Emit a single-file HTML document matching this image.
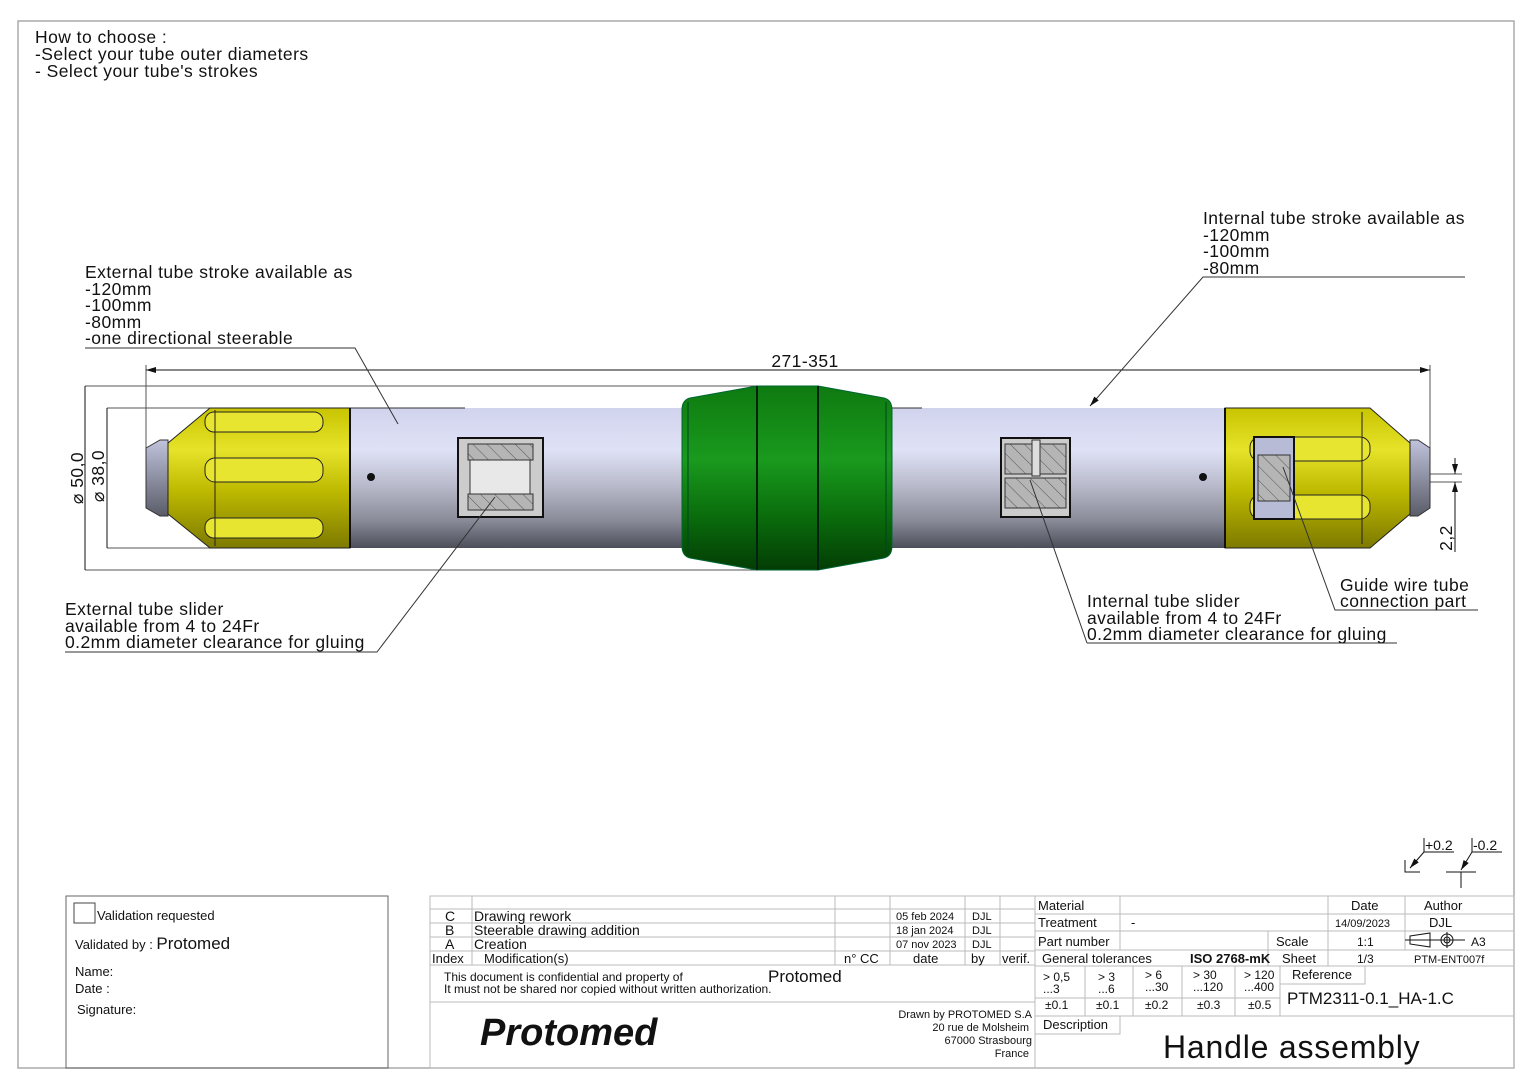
<!DOCTYPE html>
<html><head><meta charset="utf-8"><style>
html,body{margin:0;padding:0;background:#fff}
svg{display:block}
text{font-family:"Liberation Sans",sans-serif;fill:#111}
.lb{font-size:17.5px;letter-spacing:0.45px}
</style></head><body>
<svg width="1536" height="1086" viewBox="0 0 1536 1086" xmlns="http://www.w3.org/2000/svg">
<defs>
<linearGradient id="tube" x1="0" y1="0" x2="0" y2="1">
<stop offset="0" stop-color="#d0d3ec"/><stop offset="0.3" stop-color="#dfe2f6"/><stop offset="0.55" stop-color="#b9bbcc"/><stop offset="0.8" stop-color="#8a8c99"/><stop offset="1" stop-color="#4c4e5a"/></linearGradient>
<linearGradient id="yel" x1="0" y1="0" x2="0" y2="1">
<stop offset="0" stop-color="#c8c400"/><stop offset="0.3" stop-color="#e6e32a"/><stop offset="0.6" stop-color="#bdb800"/><stop offset="1" stop-color="#7d7a00"/></linearGradient>
<linearGradient id="grn" x1="0" y1="0" x2="0" y2="1">
<stop offset="0" stop-color="#0e7a10"/><stop offset="0.4" stop-color="#1a9a1e"/><stop offset="0.7" stop-color="#0a6e0c"/><stop offset="1" stop-color="#033d05"/></linearGradient>
<linearGradient id="tip" x1="0" y1="0" x2="0" y2="1">
<stop offset="0" stop-color="#c0c3dc"/><stop offset="1" stop-color="#5a5c68"/></linearGradient>
<pattern id="hatch" width="10" height="10" patternUnits="userSpaceOnUse" patternTransform="rotate(-45)"><rect width="10" height="10" fill="#b5b5b5"/><line x1="0" y1="0" x2="0" y2="10" stroke="#555" stroke-width="1"/></pattern>
<marker id="ar" markerWidth="10" markerHeight="6" refX="10" refY="3" orient="auto-start-reverse" markerUnits="userSpaceOnUse"><path d="M0,0 L10,3 L0,6z" fill="#111"/></marker>
</defs>
<rect x="18" y="21" width="1496" height="1047" fill="none" stroke="#aaa" stroke-width="1.5"/>

<text x="35" y="43" class="lb">How to choose :</text>
<text x="35" y="60" class="lb">-Select your tube outer diameters</text>
<text x="35" y="77" class="lb">- Select your tube's strokes</text>

<g stroke="#555" stroke-width="1" fill="none">
<line x1="85" y1="386" x2="757" y2="386"/><line x1="85" y1="570" x2="757" y2="570"/>
<line x1="107" y1="408" x2="350" y2="408"/><line x1="107" y1="548" x2="350" y2="548"/>
<line x1="146" y1="365" x2="146" y2="462"/><line x1="1430" y1="365" x2="1430" y2="470"/>
<line x1="146" y1="370" x2="1430" y2="370" marker-start="url(#ar)" marker-end="url(#ar)" stroke="#111"/>
<line x1="85" y1="386" x2="85" y2="570" stroke="#111"/><line x1="107" y1="408" x2="107" y2="548" stroke="#111"/>
<line x1="1290" y1="474" x2="1462" y2="474"/><line x1="1290" y1="482" x2="1462" y2="482"/>
<line x1="1455" y1="458" x2="1455" y2="474" stroke="#111" marker-end="url(#ar)"/>
<line x1="1455" y1="552" x2="1455" y2="482" stroke="#111" marker-end="url(#ar)"/>
</g>
<text x="805" y="367" class="lb" text-anchor="middle">271-351</text>
<text transform="translate(83,478) rotate(-90)" class="lb" text-anchor="middle">⌀ 50,0</text>
<text transform="translate(104,476) rotate(-90)" class="lb" text-anchor="middle">⌀ 38,0</text>
<text transform="translate(1452,538) rotate(-90)" class="lb" text-anchor="middle">2,2</text>

<rect x="350" y="408" width="875" height="140" fill="url(#tube)"/>
<line x1="350" y1="408" x2="465" y2="408" stroke="#333"/><line x1="892" y1="408" x2="922" y2="408" stroke="#333"/>
<circle cx="371" cy="477" r="4" fill="#111"/><circle cx="1203" cy="477" r="4" fill="#111"/>
<path d="M146,448 L160,440 L168,440 L168,516 L160,516 L146,508z" fill="url(#tip)" stroke="#333"/>
<path d="M168,443 L210,408 L350,408 L350,548 L210,548 L168,514z" fill="url(#yel)" stroke="#222"/>
<line x1="350" y1="408" x2="350" y2="548" stroke="#111" stroke-width="2"/>
<g fill="#e8e530" stroke="#222">
<rect x="205" y="412" width="118" height="20" rx="9"/><rect x="205" y="458" width="118" height="24" rx="10"/><rect x="205" y="518" width="118" height="20" rx="9"/></g>
<line x1="215" y1="410" x2="215" y2="546" stroke="#222"/>
<path d="M1430,448 L1418,440 L1410,440 L1410,516 L1418,516 L1430,508z" fill="url(#tip)" stroke="#333"/>
<path d="M1410,443 L1370,408 L1225,408 L1225,548 L1370,548 L1410,514z" fill="url(#yel)" stroke="#222"/>
<line x1="1225" y1="408" x2="1225" y2="548" stroke="#111" stroke-width="2"/>
<g fill="#e8e530" stroke="#222">
<rect x="1250" y="437" width="120" height="24" rx="10"/><rect x="1250" y="495" width="120" height="24" rx="10"/></g>
<line x1="1362" y1="412" x2="1362" y2="544" stroke="#222"/>
<rect x="1254" y="437" width="40" height="82" fill="#b8bbd6" stroke="#111" stroke-width="2"/>
<rect x="1258" y="455" width="32" height="46" fill="url(#hatch)" stroke="#333"/>
<path d="M690,398 L757,386 L818,386 L884,398 Q892,400 892,410 L892,546 Q892,556 884,558 L818,570 L757,570 L690,558 Q682,556 682,546 L682,410 Q682,400 690,398z" fill="url(#grn)" stroke="#063"/>
<line x1="757" y1="386" x2="757" y2="570" stroke="#021" stroke-width="2"/><line x1="818" y1="386" x2="818" y2="570" stroke="#021" stroke-width="2"/>
<line x1="688" y1="402" x2="688" y2="554" stroke="#042"/><line x1="886" y1="402" x2="886" y2="554" stroke="#042"/>
<rect x="458" y="438" width="85" height="79" fill="#ccc" stroke="#111" stroke-width="2"/>
<rect x="468" y="444" width="65" height="16" fill="url(#hatch)" stroke="#333"/>
<rect x="468" y="494" width="65" height="16" fill="url(#hatch)" stroke="#333"/>
<rect x="470" y="460" width="60" height="34" fill="#e8e8e8" stroke="#333"/>
<rect x="1001" y="438" width="69" height="79" fill="#ccc" stroke="#111" stroke-width="2"/>
<rect x="1005" y="444" width="61" height="30" fill="url(#hatch)" stroke="#333"/>
<rect x="1005" y="478" width="61" height="30" fill="url(#hatch)" stroke="#333"/>
<rect x="1032" y="440" width="8" height="36" fill="#ddd" stroke="#333"/>

<g stroke="#333" stroke-width="1" fill="none">
<polyline points="85,348 355,348 398,424"/>
<polyline points="1465,277 1203,277 1090,406" marker-end="url(#ar)"/>
<polyline points="65,652 377,652 495,497"/>
<polyline points="1087,643 1397,643"/><line x1="1087" y1="643" x2="1030" y2="480"/>
<polyline points="1478,610 1335,610 1283,467"/>
</g>
<g class="lb">
<text x="85" y="278">External tube stroke available as</text>
<text x="85" y="295">-120mm</text><text x="85" y="311">-100mm</text><text x="85" y="328">-80mm</text><text x="85" y="344">-one directional steerable</text>
<text x="1203" y="224">Internal tube stroke available as</text>
<text x="1203" y="241">-120mm</text><text x="1203" y="257">-100mm</text><text x="1203" y="274">-80mm</text>
<text x="65" y="615">External tube slider</text><text x="65" y="632">available from 4 to 24Fr</text><text x="65" y="648">0.2mm diameter clearance for gluing</text>
<text x="1087" y="607">Internal tube slider</text><text x="1087" y="624">available from 4 to 24Fr</text><text x="1087" y="640">0.2mm diameter clearance for gluing</text>
<text x="1340" y="591">Guide wire tube</text><text x="1340" y="607">connection  part</text>
</g>

<g stroke="#111" fill="none">
<polyline points="1454,852 1424,852 1424,838"/><line x1="1424" y1="852" x2="1410" y2="868" marker-end="url(#ar)"/>
<polyline points="1405,860 1405,872 1420,872"/>
<polyline points="1502,852 1472,852 1472,838"/><line x1="1472" y1="852" x2="1461" y2="870" marker-end="url(#ar)"/>
<line x1="1446" y1="872" x2="1476" y2="872"/><line x1="1461" y1="872" x2="1461" y2="888"/>
</g>
<text x="1425" y="850" font-size="14">+0.2</text><text x="1473" y="850" font-size="14">-0.2</text>

<rect x="66" y="896" width="322" height="172" fill="none" stroke="#666"/>
<rect x="74" y="903" width="21" height="20" fill="none" stroke="#444"/>
<text x="97" y="920" font-size="13">Validation requested</text>
<text x="75" y="949" font-size="13">Validated by : <tspan font-size="17">Protomed</tspan></text>
<text x="75" y="976" font-size="13">Name:</text><text x="75" y="993" font-size="13">Date :</text><text x="77" y="1014" font-size="13">Signature:</text>

<g stroke="#bbb" fill="none">
<rect x="430" y="896" width="1084" height="172"/>
<line x1="430" y1="909" x2="1035" y2="909"/><line x1="430" y1="923" x2="1035" y2="923"/><line x1="430" y1="937" x2="1035" y2="937"/><line x1="430" y1="951" x2="1035" y2="951"/><line x1="430" y1="965" x2="1035" y2="965"/><line x1="430" y1="1002" x2="1035" y2="1002"/>
<line x1="472" y1="896" x2="472" y2="965"/><line x1="835" y1="896" x2="835" y2="965"/><line x1="890" y1="896" x2="890" y2="965"/><line x1="965" y1="896" x2="965" y2="965"/><line x1="1000" y1="896" x2="1000" y2="965"/><line x1="1035" y1="896" x2="1035" y2="1068"/>
<line x1="1035" y1="914" x2="1514" y2="914"/><line x1="1035" y1="931" x2="1514" y2="931"/><line x1="1035" y1="950" x2="1514" y2="950"/><line x1="1035" y1="966" x2="1514" y2="966"/><line x1="1035" y1="998" x2="1280" y2="998"/><line x1="1035" y1="1016" x2="1514" y2="1016"/>
<line x1="1120" y1="896" x2="1120" y2="950"/><line x1="1328" y1="896" x2="1328" y2="966"/><line x1="1405" y1="896" x2="1405" y2="950"/><line x1="1268" y1="931" x2="1268" y2="966"/>
<line x1="1085" y1="966" x2="1085" y2="1016"/><line x1="1133" y1="966" x2="1133" y2="1016"/><line x1="1182" y1="966" x2="1182" y2="1016"/><line x1="1235" y1="966" x2="1235" y2="1016"/><line x1="1280" y1="966" x2="1280" y2="1016"/>
<polyline points="1280,984 1365,984 1365,966"/><polyline points="1035,1034 1120,1034 1120,1016"/>
</g>
<g font-size="14">
<text x="445" y="921">C</text><text x="474" y="921">Drawing rework</text>
<text x="445" y="935">B</text><text x="474" y="935">Steerable drawing addition</text>
<text x="445" y="949">A</text><text x="474" y="949">Creation</text>
<text x="432" y="963" font-size="13">Index</text><text x="484" y="963" font-size="13">Modification(s)</text><text x="844" y="963" font-size="13">n° CC</text><text x="913" y="963" font-size="13">date</text><text x="971" y="963" font-size="13">by</text><text x="1002" y="963" font-size="13">verif.</text>
</g>
<g font-size="11"><text x="896" y="920">05 feb 2024</text><text x="972" y="920">DJL</text><text x="896" y="934">18 jan 2024</text><text x="972" y="934">DJL</text><text x="896" y="948">07 nov 2023</text><text x="972" y="948">DJL</text></g>
<text x="444" y="981" font-size="12">This document is confidential and property of</text><text x="768" y="982" font-size="17">Protomed</text>
<text x="444" y="993" font-size="12">It must not be shared nor copied without written authorization.</text>
<text x="480" y="1045" font-size="38" font-weight="bold" font-style="italic" fill="#000">Protomed</text>
<g font-size="11" text-anchor="end"><text x="1032" y="1018" fill="#777">Drawn by PROTOMED S.A</text><text x="1029" y="1031" fill="#777">20 rue de Molsheim</text><text x="1032" y="1044" fill="#777">67000 Strasbourg</text><text x="1029" y="1057" fill="#777">France</text></g>

<g font-size="13">
<text x="1038" y="910">Material</text><text x="1351" y="910">Date</text><text x="1424" y="910">Author</text>
<text x="1038" y="927">Treatment</text><text x="1131" y="927">-</text><text x="1335" y="927" font-size="11">14/09/2023</text><text x="1429" y="927">DJL</text>
<text x="1038" y="946">Part number</text><text x="1276" y="946">Scale</text><text x="1357" y="946" font-size="12">1:1</text><text x="1471" y="946" font-size="12">A3</text>
<text x="1042" y="963">General tolerances</text><text x="1190" y="963" font-weight="bold">ISO 2768-mK</text><text x="1282" y="963">Sheet</text><text x="1357" y="963" font-size="12">1/3</text><text x="1414" y="963" font-size="11">PTM-ENT007f</text>
<text x="1292" y="979">Reference</text>
<text x="1043" y="1029">Description</text>
</g>
<g stroke="#111" fill="none"><path d="M1410,936 L1430,933 L1430,947 L1410,944z"/><line x1="1405" y1="940" x2="1465" y2="940"/><circle cx="1447" cy="940" r="6"/><circle cx="1447" cy="940" r="3"/><line x1="1447" y1="932" x2="1447" y2="948"/></g>
<g font-size="12">
<text x="1043" y="981">&gt; 0,5</text><text x="1043" y="993">...3</text><text x="1098" y="981">&gt; 3</text><text x="1098" y="993">...6</text>
<text x="1145" y="979">&gt; 6</text><text x="1145" y="991">...30</text><text x="1193" y="979">&gt;  30</text><text x="1193" y="991">...120</text>
<text x="1244" y="979">&gt; 120</text><text x="1244" y="991">...400</text>
<text x="1045" y="1009">±0.1</text><text x="1096" y="1009">±0.1</text><text x="1145" y="1009">±0.2</text><text x="1197" y="1009">±0.3</text><text x="1248" y="1009">±0.5</text>
</g>
<text x="1287" y="1004" font-size="17">PTM2311-0.1_HA-1.C</text>
<text x="1163" y="1058" font-size="32" letter-spacing="0.8">Handle assembly</text>
</svg>
</body></html>
